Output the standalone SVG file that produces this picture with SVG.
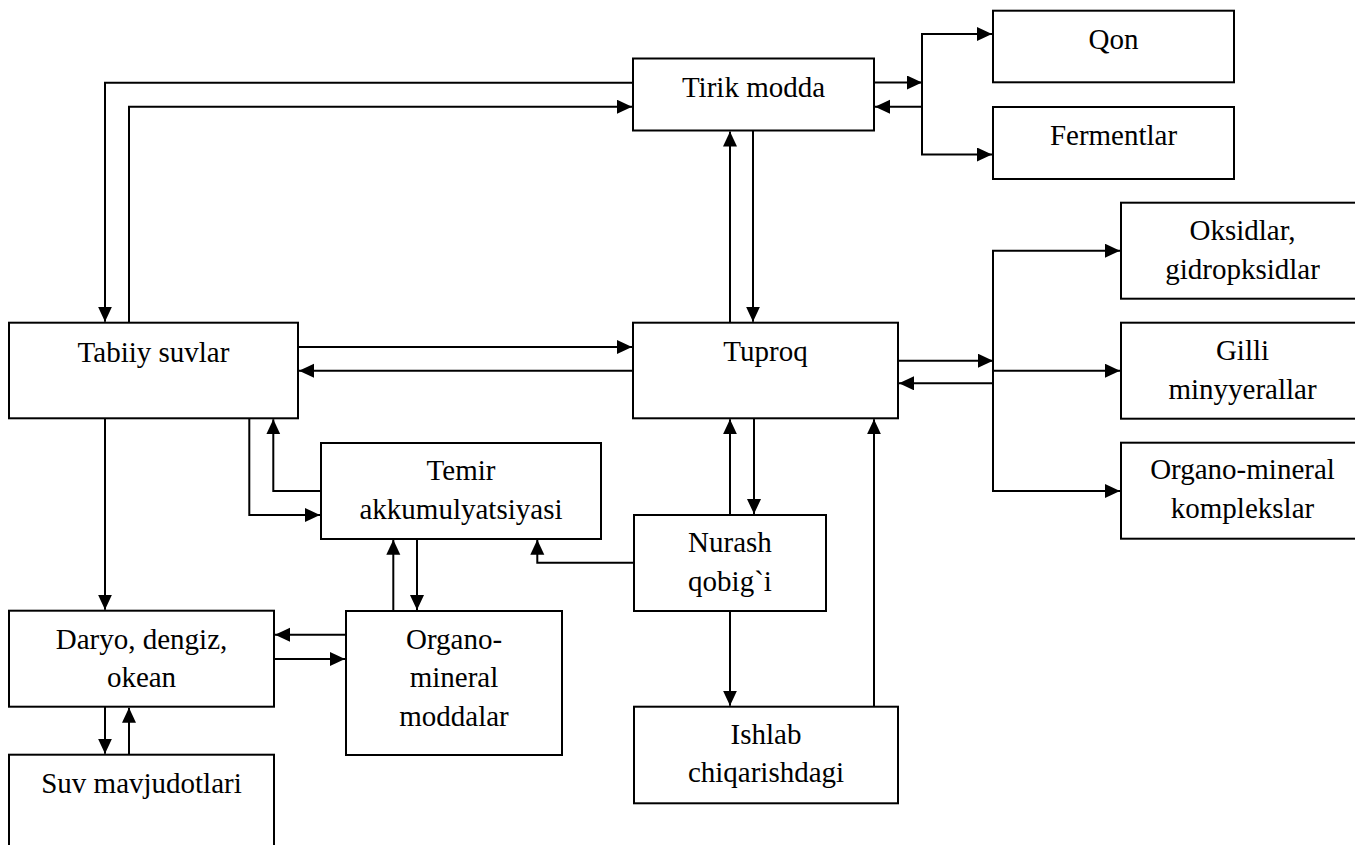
<svg xmlns="http://www.w3.org/2000/svg" width="1355" height="845" viewBox="0 0 1355 845">
  <style>
    .box { fill: #ffffff; stroke: #000000; stroke-width: 2; }
    .lbl { font-family: "Liberation Serif", "Times New Roman", serif; font-size: 29px; fill: #000000; text-anchor: middle; }
    .wire { fill: none; stroke: #000000; stroke-width: 2; }
    .arr { fill: none; stroke: #000000; stroke-width: 2; marker-end: url(#head); }
  </style>
  <defs>
    <marker id="head" markerUnits="userSpaceOnUse" markerWidth="15" markerHeight="15" refX="15" refY="7" orient="auto">
      <path d="M0,0 L15,7 L0,14 z" fill="#000000"/>
    </marker>
  </defs>
  <rect width="1355" height="845" fill="#ffffff"/>

  <!-- connectors -->
  <g id="connectors">
    <!-- Tirik modda <-> Tabiiy suvlar -->
    <path class="arr" d="M633,82.7 H105 V321.7"/>
    <path class="arr" d="M129,322.7 V106.7 H632"/>
    <!-- Tirik modda <-> Qon / Fermentlar -->
    <path class="arr" d="M874,82.5 H922"/>
    <path class="wire" d="M922,34 V154.5"/>
    <path class="arr" d="M921,34 H992"/>
    <path class="arr" d="M921,154.5 H992"/>
    <path class="arr" d="M922,106.7 H875"/>
    <!-- Tirik modda <-> Tuproq -->
    <path class="arr" d="M730,322.7 V131.5"/>
    <path class="arr" d="M753,130.7 V321.7"/>
    <!-- Tabiiy suvlar <-> Tuproq -->
    <path class="arr" d="M298,347 H632"/>
    <path class="arr" d="M633,370.7 H299"/>
    <!-- Tuproq <-> mineral groups -->
    <path class="arr" d="M898,360.7 H993"/>
    <path class="wire" d="M993,250.7 V491"/>
    <path class="arr" d="M992,250.7 H1120"/>
    <path class="arr" d="M993,370.7 H1120"/>
    <path class="arr" d="M992,491 H1120"/>
    <path class="arr" d="M993,383.3 H899"/>
    <!-- Tabiiy suvlar -> Daryo -->
    <path class="arr" d="M105,418.3 V609.7"/>
    <!-- Tabiiy suvlar <-> Temir -->
    <path class="arr" d="M249.3,418.3 V515 H320"/>
    <path class="arr" d="M321,491 H273.3 V419.3"/>
    <!-- Temir <-> Organo-mineral moddalar -->
    <path class="arr" d="M393.3,611 V539.7"/>
    <path class="arr" d="M417,538.7 V610"/>
    <!-- Organo-mineral moddalar <-> Daryo -->
    <path class="arr" d="M346,634.7 H275"/>
    <path class="arr" d="M274,659 H345"/>
    <!-- Daryo <-> Suv mavjudotlari -->
    <path class="arr" d="M105,706.7 V753.7"/>
    <path class="arr" d="M129,754.7 V707.7"/>
    <!-- Nurash -> Temir -->
    <path class="arr" d="M634,562.7 H537.3 V539.7"/>
    <!-- Nurash <-> Tuproq -->
    <path class="arr" d="M730,515 V419.3"/>
    <path class="arr" d="M754,418.3 V514"/>
    <!-- Nurash -> Ishlab -->
    <path class="arr" d="M730,610.7 V705.7"/>
    <!-- Ishlab -> Tuproq -->
    <path class="arr" d="M874,706.7 V419.3"/>
  </g>

  <g id="tirik-modda">
    <rect class="box" x="633" y="58.5" width="241" height="72"/>
    <text class="lbl" x="753.5" y="97">Tirik modda</text>
  </g>
  <g id="qon">
    <rect class="box" x="993" y="10.7" width="241" height="71.6"/>
    <text class="lbl" x="1113.5" y="48.5">Qon</text>
  </g>
  <g id="fermentlar">
    <rect class="box" x="993" y="107" width="241" height="72"/>
    <text class="lbl" x="1113.5" y="144.5">Fermentlar</text>
  </g>
  <g id="tabiiy-suvlar">
    <rect class="box" x="9" y="322.7" width="289" height="95.6"/>
    <text class="lbl" x="153.5" y="361.5">Tabiiy suvlar</text>
  </g>
  <g id="tuproq">
    <rect class="box" x="633" y="322.7" width="265" height="95.6"/>
    <text class="lbl" x="765.5" y="361">Tuproq</text>
  </g>
  <g id="oksidlar">
    <rect class="box" x="1121" y="202.7" width="245" height="96"/>
    <text class="lbl" x="1242.5" y="240">Oksidlar,</text>
    <text class="lbl" x="1242.5" y="279">gidropksidlar</text>
  </g>
  <g id="gilli">
    <rect class="box" x="1121" y="322.7" width="245" height="96"/>
    <text class="lbl" x="1242.5" y="359.5">Gilli</text>
    <text class="lbl" x="1242.5" y="398.5">minyyerallar</text>
  </g>
  <g id="organo-mineral-komplekslar">
    <rect class="box" x="1121" y="442.7" width="245" height="96"/>
    <text class="lbl" x="1242.5" y="478.5">Organo-mineral</text>
    <text class="lbl" x="1242.5" y="518">komplekslar</text>
  </g>
  <g id="temir">
    <rect class="box" x="321" y="443" width="280" height="96"/>
    <text class="lbl" x="461" y="480">Temir</text>
    <text class="lbl" x="461" y="518.5">akkumulyatsiyasi</text>
  </g>
  <g id="nurash">
    <rect class="box" x="634" y="515" width="192" height="96"/>
    <text class="lbl" x="730" y="552">Nurash</text>
    <text class="lbl" x="730" y="591">qobig`i</text>
  </g>
  <g id="daryo">
    <rect class="box" x="9" y="610.7" width="265" height="96"/>
    <text class="lbl" x="141.5" y="649">Daryo, dengiz,</text>
    <text class="lbl" x="141.5" y="687">okean</text>
  </g>
  <g id="organo-mineral-moddalar">
    <rect class="box" x="346" y="611" width="216" height="144"/>
    <text class="lbl" x="454" y="648.5">Organo-</text>
    <text class="lbl" x="454" y="687">mineral</text>
    <text class="lbl" x="454" y="725.5">moddalar</text>
  </g>
  <g id="suv-mavjudotlari">
    <rect class="box" x="9" y="754.7" width="265" height="100"/>
    <text class="lbl" x="141.5" y="792.5">Suv mavjudotlari</text>
  </g>
  <g id="ishlab">
    <rect class="box" x="634" y="706.7" width="264" height="96.6"/>
    <text class="lbl" x="766" y="743.5">Ishlab</text>
    <text class="lbl" x="766" y="782">chiqarishdagi</text>
  </g>
</svg>
